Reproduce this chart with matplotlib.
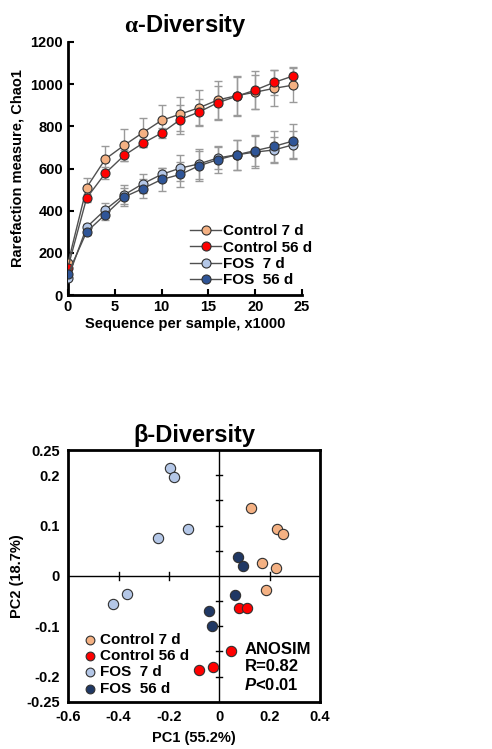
import matplotlib
matplotlib.use('Agg')
import matplotlib.pyplot as plt
import numpy as np

plt.rcParams['font.family'] = ['Liberation Sans', 'DejaVu Sans']
plt.rcParams['font.weight'] = 'bold'
plt.rcParams['mathtext.fontset'] = 'custom'
plt.rcParams['mathtext.rm'] = 'Liberation Serif:bold'
plt.rcParams['mathtext.it'] = 'Liberation Sans:italic:bold'

# alpha diversity rarefaction
seq = [0, 2, 4, 6, 8, 10, 12, 14, 16, 18, 20, 22, 24]
ctrl7 = [150, 510, 645, 710, 770, 828, 858, 888, 925, 945, 962, 980, 995]
ctrl7_err = [10, 45, 60, 75, 70, 75, 80, 85, 90, 95, 80, 85, 80]
ctrl56 = [130, 460, 578, 662, 720, 768, 832, 868, 912, 942, 972, 1008, 1038]
ctrl56_err = [10, 20, 30, 25, 20, 25, 70, 60, 80, 90, 90, 60, 45]
fos7 = [80, 322, 405, 475, 528, 572, 602, 622, 650, 665, 678, 688, 712]
fos7_err = [10, 15, 30, 45, 45, 30, 60, 70, 50, 70, 75, 60, 65]
fos56 = [100, 300, 382, 465, 505, 548, 572, 613, 642, 665, 685, 705, 730]
fos56_err = [10, 15, 25, 45, 45, 55, 60, 70, 65, 70, 75, 75, 80]

# beta diversity PCoA
c7_x = [0.128, 0.230, 0.252, 0.172, 0.225, 0.185]
c7_y = [0.135, 0.093, 0.083, 0.025, 0.015, -0.027]
c56_x = [0.078, 0.111, 0.046, -0.024, -0.079]
c56_y = [-0.064, -0.064, -0.150, -0.180, -0.186]
f7_x = [-0.196, -0.179, -0.126, -0.245, -0.368, -0.421]
f7_y = [0.214, 0.196, 0.093, 0.076, -0.036, -0.056]
f56_x = [0.073, 0.095, 0.062, -0.041, -0.028]
f56_y = [0.038, 0.019, -0.038, -0.069, -0.099]

col_c7 = '#F4B183'
col_c56 = '#FF0000'
col_f7 = '#B4C7E7'
col_f56 = '#2F5597'
col_f56b = '#203864'

fig = plt.figure(figsize=(4.92, 7.49), dpi=100)

ax1 = fig.add_axes([0.138, 0.606, 0.476, 0.338])
series = [(ctrl7, ctrl7_err, col_c7, 'Control 7 d'),
          (ctrl56, ctrl56_err, col_c56, 'Control 56 d'),
          (fos7, fos7_err, col_f7, 'FOS  7 d'),
          (fos56, fos56_err, col_f56, 'FOS  56 d')]
for vals, err, c, lab in series:
    ax1.errorbar(seq, vals, yerr=err, fmt='none', ecolor='#9a9a9a', elinewidth=1, capsize=3, capthick=1, zorder=1)
for vals, err, c, lab in series:
    ax1.plot(seq, vals, '-o', color='#505050', lw=1, markerfacecolor=c, markeredgecolor='#303030',
             markeredgewidth=0.8, markersize=6.5, label=lab, zorder=3)
ax1.set_xlim(0, 25)
ax1.set_ylim(0, 1200)
ax1.set_xticks([0, 5, 10, 15, 20, 25])
ax1.set_yticks(range(0, 1201, 200))
ax1.spines['top'].set_visible(False)
ax1.spines['right'].set_visible(False)
ax1.spines['left'].set_linewidth(2)
ax1.spines['bottom'].set_linewidth(2)
ax1.tick_params(direction='in', length=4, width=1.5, labelsize=10.5)
ax1.set_xlabel('Sequence per sample, x1000', fontsize=10.5, fontweight='bold', labelpad=2)
ax1.set_ylabel('Rarefaction measure, Chao1', fontsize=10.5, fontweight='bold', labelpad=4)
ax1.set_title('$\\mathrm{\\alpha}$-Diversity', fontsize=17, fontweight='bold', pad=7)
leg1 = ax1.legend(loc='lower right', bbox_to_anchor=(1.08, -0.005), frameon=False, fontsize=11,
                  handlelength=2.0, handletextpad=0.1, labelspacing=0.15, borderaxespad=0.2)

ax2 = fig.add_axes([0.139, 0.063, 0.511, 0.336])
ax2.axhline(0, color='black', lw=1, zorder=1)
ax2.axvline(0, color='black', lw=1, zorder=1)
for xt in [-0.4, -0.2, 0.2]:
    ax2.plot([xt, xt], [-0.008, 0.008], color='black', lw=1, zorder=1)
for yt in [-0.2, -0.15, -0.1, -0.05, 0.05, 0.1, 0.15, 0.2]:
    ax2.plot([-0.012, 0.012], [yt, yt], color='black', lw=1, zorder=1)
groups = [(c7_x, c7_y, col_c7, 'Control 7 d'),
          (c56_x, c56_y, col_c56, 'Control 56 d'),
          (f7_x, f7_y, col_f7, 'FOS  7 d'),
          (f56_x, f56_y, col_f56b, 'FOS  56 d')]
for xs, ys, c, lab in groups:
    ax2.scatter(xs, ys, s=55, color=c, edgecolors='#303030', linewidths=0.8, label=lab, zorder=3)
ax2.set_xlim(-0.6, 0.4)
ax2.set_ylim(-0.25, 0.25)
ax2.set_xticks([-0.6, -0.4, -0.2, 0, 0.2, 0.4])
ax2.set_xticklabels(['-0.6', '-0.4', '-0.2', '0', '0.2', '0.4'])
ax2.set_yticks([-0.25, -0.2, -0.1, 0, 0.1, 0.2, 0.25])
ax2.set_yticklabels(['-0.25', '-0.2', '-0.1', '0', '0.1', '0.2', '0.25'])
for s in ax2.spines.values():
    s.set_linewidth(2)
ax2.tick_params(length=0, labelsize=10.5, pad=6)
ax2.set_xlabel('PC1 (55.2%)', fontsize=10.5, fontweight='bold', labelpad=5)
ax2.set_ylabel('PC2 (18.7%)', fontsize=10.5, fontweight='bold', labelpad=2)
ax2.set_title('\u03b2-Diversity', fontsize=17, fontweight='bold', pad=6)
ax2.legend(loc='lower left', frameon=False, fontsize=11, handletextpad=-0.3, labelspacing=0.15,
           borderaxespad=0.1, borderpad=0.3, scatterpoints=1, markerscale=0.85)
ax2.text(0.70, 0.035, 'ANOSIM\nR=0.82\n$\\it{P}$<0.01', transform=ax2.transAxes,
         fontsize=12, fontweight='bold', ha='left', va='bottom', linespacing=1.2)

fig.savefig('out.png', dpi=100)
